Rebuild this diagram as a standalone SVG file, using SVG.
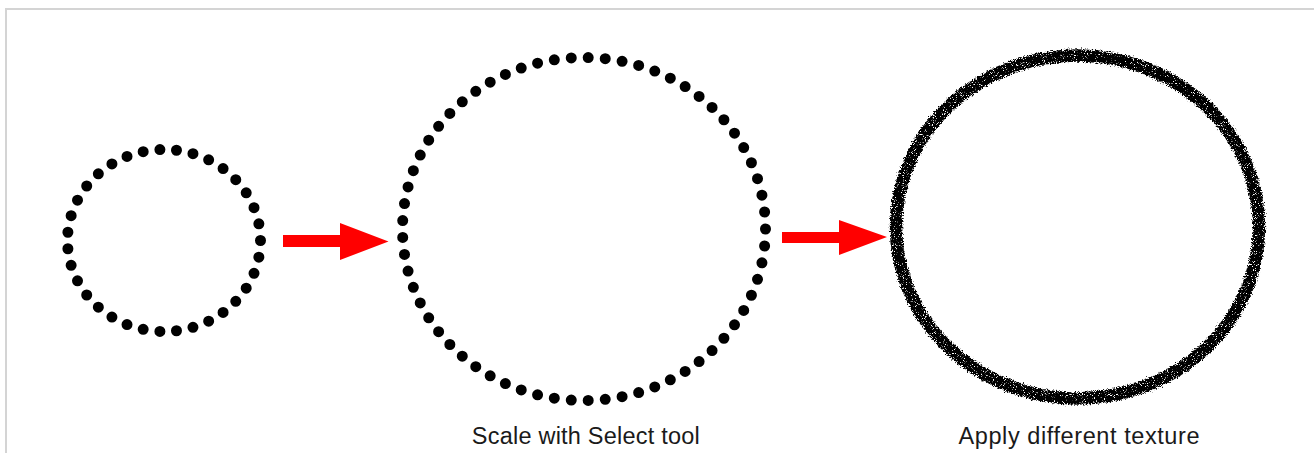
<svg xmlns="http://www.w3.org/2000/svg" width="1314" height="453" viewBox="0 0 1314 453">
  <style>
    .dots { fill: none; stroke: #000; stroke-linecap: round; stroke-width: 11; stroke-dasharray: 0 1; }
    .arrow { fill: #ff0000; }
    .label { font-family: "Liberation Sans", Arial, sans-serif; font-size: 23.5px; fill: #1a1a1a; text-anchor: middle; }
    .frame { fill: #d4d4d4; }
  </style>
  <defs>
    <filter id="rough" x="-10%" y="-10%" width="120%" height="120%">
      <feTurbulence type="fractalNoise" baseFrequency="0.8" numOctaves="2" seed="3" result="n"/>
      <feDisplacementMap in="SourceGraphic" in2="n" scale="6" xChannelSelector="R" yChannelSelector="G" result="d"/>
      <feTurbulence type="fractalNoise" baseFrequency="1.1" numOctaves="1" seed="7" result="n2"/>
      <feColorMatrix in="n2" type="matrix" values="0 0 0 0 0  0 0 0 0 0  0 0 0 0 0  -10 0 0 0 7.0" result="holes"/>
      <feComposite in="d" in2="holes" operator="in"/>
    </filter>
  </defs>

  <g id="frame">
    <rect class="frame" x="5" y="8" width="1309" height="2"/>
    <rect class="frame" x="5" y="8" width="2" height="445"/>
  </g>

  <g id="small-circle">
    <ellipse class="dots" cx="164" cy="240.5" rx="96.5" ry="91" pathLength="35"/>
  </g>

  <g id="large-circle">
    <ellipse class="dots" cx="584" cy="229" rx="181.5" ry="171.5" pathLength="65"/>
    <text class="label" x="585.8" y="444" textLength="228" lengthAdjust="spacing">Scale with Select tool</text>
  </g>

  <g id="textured-circle">
    <ellipse cx="1077.5" cy="227" rx="181.5" ry="171.5" fill="none" stroke="#000" stroke-width="12.5" filter="url(#rough)"/>
    <text class="label" x="1079" y="443.5" textLength="241" lengthAdjust="spacing">Apply different texture</text>
  </g>

  <g id="connectors">
    <path class="arrow" d="M283,235 H340 V223 L388.5,241.5 L340,260 V247 H283 Z"/>
    <path class="arrow" d="M782,232 H839 V220 L887,237 L839,255 V243 H782 Z"/>
  </g>
</svg>
